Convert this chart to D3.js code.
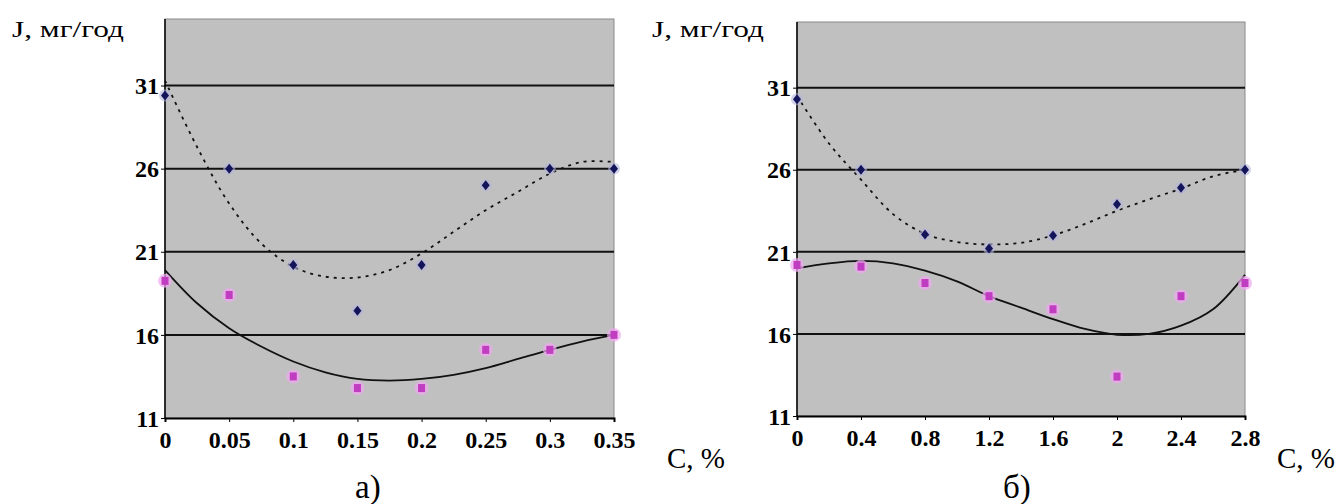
<!DOCTYPE html>
<html>
<head>
<meta charset="utf-8">
<script src="https://cdn.jsdelivr.net/npm/d3@7"></script>
<style>
  body { margin: 0; background: #fff; }
  svg { display: block; }
</style>
</head>
<body>
<svg id="chart" width="1340" height="504"></svg>
<script>
// ---- data ----
var yTicks = [11, 16, 21, 26, 31];

var leftX      = [0, 0.05, 0.1, 0.15, 0.2, 0.25, 0.3, 0.35];
var leftLabels = ['0', '0.05', '0.1', '0.15', '0.2', '0.25', '0.3', '0.35'];
var leftBlue   = [30.4, 26, 20.2, 17.45, 20.2, 25.0, 26, 26];
var leftPink   = [19.25, 18.4, 13.5, 12.8, 12.8, 15.1, 15.1, 16];

var leftTrendX    = [0, 0.025, 0.05, 0.075, 0.1, 0.125, 0.15, 0.175, 0.2, 0.225, 0.25, 0.275, 0.3, 0.325, 0.35];
var leftTrendBlue = [31.3, 27.3, 23.9, 21.5, 20.1, 19.5, 19.45, 19.9, 20.9, 22.2, 23.5, 24.6, 25.7, 26.4, 26.4];
var leftTrendPink = [19.9, 17.9, 16.4, 15.3, 14.4, 13.75, 13.35, 13.25, 13.35, 13.6, 14.0, 14.55, 15.1, 15.6, 16.0];

var rightX      = [0, 0.4, 0.8, 1.2, 1.6, 2, 2.4, 2.8];
var rightLabels = ['0', '0.4', '0.8', '1.2', '1.6', '2', '2.4', '2.8'];
var rightBlue   = [30.3, 26, 22.05, 21.2, 22.0, 23.9, 24.9, 26.0];
var rightPink   = [20.2, 20.1, 19.1, 18.3, 17.5, 13.4, 18.3, 19.1];

var rightTrendX    = [0, 0.2, 0.4, 0.6, 0.8, 1.0, 1.2, 1.4, 1.6, 1.8, 2.0, 2.2, 2.4, 2.6, 2.8];
var rightTrendBlue = [30.5, 27.6, 25.4, 23.3, 22.1, 21.6, 21.45, 21.55, 22.0, 22.7, 23.5, 24.2, 24.85, 25.6, 26.0];
var rightTrendPink = [20.0, 20.3, 20.45, 20.3, 19.85, 19.2, 18.3, 17.6, 16.9, 16.3, 15.95, 16.0, 16.5, 17.5, 19.6];

var SERIF = '"Liberation Serif", "Times New Roman", Times, "DejaVu Serif", serif';

var svg = d3.select('#chart');

var panels = [
    { x0: 165, x1: 614, top: 19, bottom: 418, dom: [0, 0.35],
      xs: leftX, labels: leftLabels, blue: leftBlue, pink: leftPink,
      tx: leftTrendX, tBlue: leftTrendBlue, tPink: leftTrendPink,
      jx: 12, cx: 667, sub: 'а)', subx: 355 },
    { x0: 797, x1: 1245, top: 22, bottom: 416, dom: [0, 2.8],
      xs: rightX, labels: rightLabels, blue: rightBlue, pink: rightPink,
      tx: rightTrendX, tBlue: rightTrendBlue, tPink: rightTrendPink,
      jx: 652, cx: 1277, sub: 'б)', subx: 1003 }
];

function label(sel) {
    sel.style('font-family', SERIF).style('font-weight', 'bold').style('font-size', '24px')
       .attr('fill', '#000');
}

panels.forEach(function(p) {

    var x = d3.scaleLinear().domain(p.dom).range([p.x0, p.x1]);
    var y = d3.scaleLinear().domain([11, 35]).range([p.bottom, p.top]);
    var g = svg.append('g');

    // plot area
    g.append('rect')
        .attr('x', p.x0).attr('y', p.top)
        .attr('width', p.x1 - p.x0).attr('height', p.bottom - p.top)
        .attr('fill', '#c0c0c0').attr('stroke', '#8a8a8a').attr('stroke-width', 1);

    // grid
    g.selectAll('.grid').data(yTicks.slice(1)).enter().append('line')
        .attr('x1', p.x0).attr('x2', p.x1)
        .attr('y1', function(d) { return y(d); }).attr('y2', function(d) { return y(d); })
        .attr('stroke', '#111').attr('stroke-width', 2);

    // axes
    var yAxis = d3.axisLeft(y).tickValues(yTicks).tickSize(4).tickFormat(d3.format('d'));
    var ya = g.append('g').attr('transform', 'translate(' + p.x0 + ',0)').call(yAxis);
    ya.select('.domain').attr('stroke', '#000').attr('stroke-width', 1.5)
        .attr('d', 'M0,' + p.top + 'V' + p.bottom);
    ya.selectAll('text').call(label).attr('x', -6).attr('dy', '0.34em');

    var xAxis = d3.axisBottom(x).tickValues(p.xs).tickSize(4)
        .tickFormat(function(d, i) { return p.labels[i]; });
    var xa = g.append('g').attr('transform', 'translate(0,' + p.bottom + ')').call(xAxis);
    xa.select('.domain').attr('stroke', '#000').attr('stroke-width', 2);
    xa.selectAll('text').call(label).attr('y', 13).attr('dy', '0.71em');

    // trend lines
    var line = d3.line().curve(d3.curveCatmullRom)
        .x(function(d) { return x(d[0]); }).y(function(d) { return y(d[1]); });

    g.append('path').datum(d3.zip(p.tx, p.tPink))
        .attr('d', line).attr('fill', 'none')
        .attr('stroke', '#111').attr('stroke-width', 1.8);

    g.append('path').datum(d3.zip(p.tx, p.tBlue))
        .attr('d', line).attr('fill', 'none')
        .attr('stroke', '#111').attr('stroke-width', 1.8).attr('stroke-dasharray', '3,5');

    // markers
    var pink = d3.zip(p.xs, p.pink);
    g.selectAll('.phalo').data(pink).enter().append('circle')
        .attr('cx', function(d) { return x(d[0]); }).attr('cy', function(d) { return y(d[1]); })
        .attr('r', 7).attr('fill', '#f0a8f0').attr('opacity', 0.7);
    g.selectAll('.pm').data(pink).enter().append('rect')
        .attr('x', function(d) { return x(d[0]) - 3.5; }).attr('y', function(d) { return y(d[1]) - 4; })
        .attr('width', 7).attr('height', 8).attr('fill', '#c03cc0');

    var blue = d3.zip(p.xs, p.blue);
    g.selectAll('.bhalo').data(blue).enter().append('circle')
        .attr('cx', function(d) { return x(d[0]); }).attr('cy', function(d) { return y(d[1]); })
        .attr('r', 6).attr('fill', '#b4b4d8').attr('opacity', 0.6);
    g.selectAll('.bm').data(blue).enter().append('path')
        .attr('transform', function(d) { return 'translate(' + x(d[0]) + ',' + y(d[1]) + ')'; })
        .attr('d', 'M0,-5L4,0L0,5L-4,0Z').attr('fill', '#14145a');

    // labels
    svg.append('text').attr('x', p.jx).attr('y', 37)
        .style('font-family', SERIF).style('font-size', '24px')
        .attr('textLength', 112).attr('lengthAdjust', 'spacingAndGlyphs').text('J, мг/год');
    svg.append('text').attr('x', p.cx).attr('y', 468)
        .style('font-family', SERIF).style('font-size', '29px').text('C, %');
    svg.append('text').attr('x', p.subx).attr('y', 498)
        .style('font-family', SERIF).style('font-size', '33px').text(p.sub);
});
</script>
</body>
</html>
